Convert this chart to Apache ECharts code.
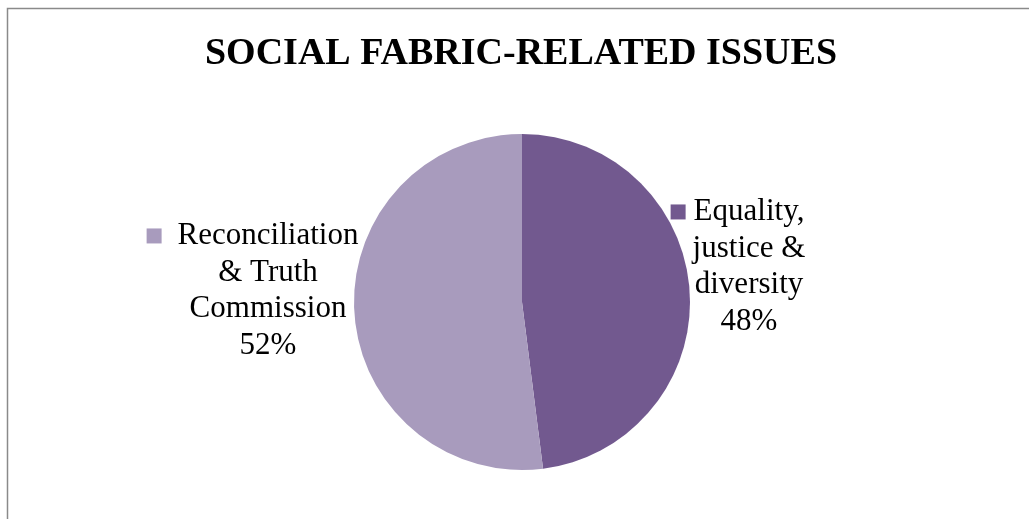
<!DOCTYPE html>
<html><head><meta charset="utf-8">
<script src="https://cdn.jsdelivr.net/npm/echarts@6/dist/echarts.min.js"></script>
<style>html,body{margin:0;padding:0;background:#fff}#c{width:1029px;height:519px}</style>
</head><body><div id="c"></div>
<script>
const titleText = 'SOCIAL FABRIC-RELATED ISSUES';
const categories = ['Equality, justice & diversity', 'Reconciliation & Truth Commission'];
const values = [48, 52];
const labelLines = [['Equality,', 'justice &', 'diversity'], ['Reconciliation', '& Truth', 'Commission']];
const colors = ['#72598F', '#A89BBD'];

const FONT = '"Liberation Serif", "Times New Roman", serif';
const CX = 522, CY = 302, R = 168;
const labelAnchors = [[749, 267], [268, 291]];
const keyGap = [8, 16];

function rich(i) {
  const base = {fontFamily: FONT, fontSize: 31, lineHeight: 36.7, color: '#000', align: 'center'};
  return {
    t: base,
    sq: {width: 15, height: 15, backgroundColor: colors[i], align: 'left'},
    g: {width: keyGap[i], height: 15, align: 'left'},
    sp: {width: 15 + keyGap[i], height: 15, align: 'right'}
  };
}

const chart = echarts.init(document.getElementById('c'), null, {renderer: 'canvas'});
chart.setOption({
  animation: false,
  backgroundColor: '#fff',
  title: {
    text: titleText, left: 521, textAlign: 'center', top: 35, padding: 0,
    textStyle: {fontFamily: FONT, fontWeight: 'bold', fontSize: 38, color: '#000'}
  },
  graphic: [{
    type: 'rect', silent: true,
    shape: {x: 7.5, y: 8.5, width: 1100, height: 600},
    style: {fill: 'none', stroke: '#8a8a8a', lineWidth: 1.5}
  }],
  series: [{
    type: 'pie',
    center: [CX, CY],
    radius: R,
    startAngle: 90,
    clockwise: true,
    emphasis: {disabled: true},
    itemStyle: {borderWidth: 0},
    data: categories.map((c, i) => ({
      name: c, value: values[i],
      itemStyle: {color: colors[i]},
      label: {rich: rich(i)}
    })),
    label: {
      show: true, position: 'outside',
      formatter: p => {
        const L = labelLines[p.dataIndex];
        return '{sq|}{g|}{t|' + L[0] + '}{sp|}\n' +
          L.slice(1).map(s => '{t|' + s + '}').join('\n') +
          '\n{t|' + Math.round(p.percent) + '%}';
      }
    },
    labelLine: {show: false},
    labelLayout: p => ({
      x: labelAnchors[p.dataIndex][0],
      y: labelAnchors[p.dataIndex][1],
      align: 'center', verticalAlign: 'middle'
    })
  }]
});
</script>
</body></html>
